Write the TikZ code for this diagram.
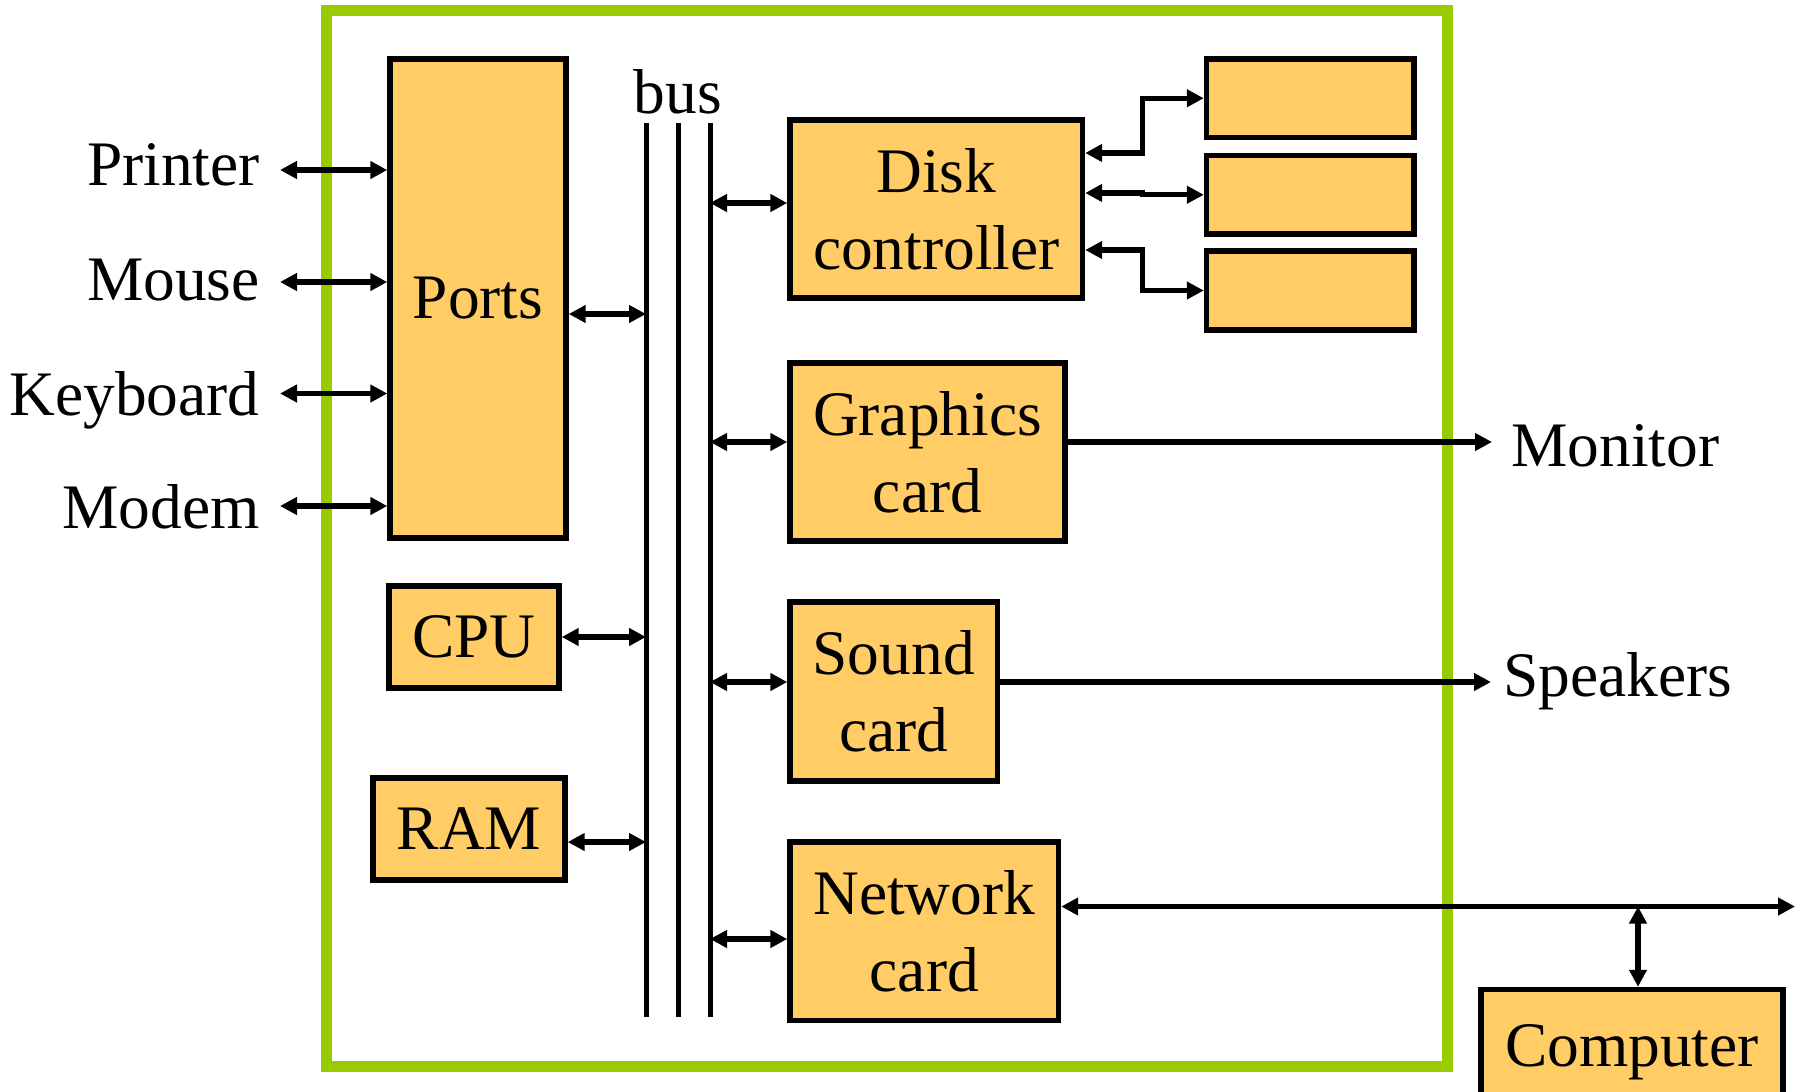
\documentclass[tikz,border=0pt]{standalone}
\usepackage{fontspec}
\setmainfont{Liberation Serif}
\usetikzlibrary{arrows.meta}
\definecolor{boxfill}{HTML}{FFCC66}
\definecolor{framegreen}{HTML}{99CC00}
\begin{document}
\begin{tikzpicture}[x=0.5pt,y=-0.5pt,
  every node/.style={font=\fontsize{31.7}{38.5}\selectfont},
  box/.style={draw=black, line width=2.7pt, fill=boxfill, inner sep=0pt},
  sized/.style 2 args={minimum width=#1*0.5pt, minimum height=#2*0.5pt},
  conn/.style={line width=2.7pt, {Triangle[length=8.5pt,width=8.5pt]}-{Triangle[length=8.5pt,width=8.5pt]}},
  oneway/.style={line width=2.7pt, -{Triangle[length=8.5pt,width=8.5pt]}},
  busline/.style={line width=2.5pt},
  lbl/.style={inner sep=0pt}]

\useasboundingbox (0,0) rectangle (1804,1092);
\clip (0,0) rectangle (1804,1092);

% system frame
\draw[framegreen, line width=5.5pt] (326,10) rectangle (1447,1066);

% bus
\coordinate (b1t) at (646,123);
\coordinate (b2t) at (678,123);
\coordinate (b3t) at (710,123);
\coordinate (b1b) at (646,1017);
\coordinate (b2b) at (678,1017);
\coordinate (b3b) at (710,1017);
\draw[busline] (b1t) -- (b1b);
\draw[busline] (b2t) -- (b2b);
\draw[busline] (b3t) -- (b3b);
\node[lbl, anchor=base] (busl) at (678,113) {bus};

% components
\node[box, sized={176}{479}] (ports) at (478,298.5) {Ports};
\node[box, sized={170}{102}] (cpu) at (474,637) {CPU};
\node[box, sized={192}{102}] (ram) at (469,829) {RAM};
\node[box, sized={292.5}{178}, align=center] (dc) at (936.25,209) {Disk\\controller};
\node[box, sized={207.5}{78.5}] (d1) at (1310.25,98.25) {};
\node[box, sized={207.5}{78.5}] (d2) at (1310.25,194.75) {};
\node[box, sized={207.5}{79}] (d3) at (1310.25,290.5) {};
\node[box, sized={275}{178}, align=center] (gc) at (927.5,452) {Graphics\\card};
\node[box, sized={207.5}{179}, align=center] (sc) at (893.75,691.5) {Sound\\card};
\node[box, sized={268.5}{178.5}, align=center] (nc) at (924.25,931.25) {Network\\card};
\node[box, sized={302}{125.5}] (comp) at (1632,1052.25) {Computer};

% external devices on the ports
\coordinate (pr) at (280,170);
\coordinate (mo) at (280,282);
\coordinate (kb) at (280,393.5);
\coordinate (md) at (280,506);
\node[lbl, anchor=base east] (lpr) at (260,185) {Printer};
\node[lbl, anchor=base east] (lmo) at (260,300) {Mouse};
\node[lbl, anchor=base east] (lkb) at (260,415) {Keyboard};
\node[lbl, anchor=base east] (lmd) at (260,528) {Modem};
\draw[conn] (pr) -- (pr -| ports.west);
\draw[conn] (mo) -- (mo -| ports.west);
\draw[conn] (kb) -- (kb -| ports.west);
\draw[conn] (md) -- (md -| ports.west);

% left side to bus
\coordinate (bP) at (646,314);
\coordinate (bR) at (646,842);
\draw[conn] (ports.east |- bP) -- (bP);
\draw[conn] (cpu.east) -- (cpu.east -| b1t);
\draw[conn] (ram.east |- bR) -- (bR);

% bus to right side
\coordinate (bD) at (710,203);
\coordinate (bG) at (710,442);
\coordinate (bS) at (710,682);
\coordinate (bN) at (710,939);
\draw[conn] (bD) -- (bD -| dc.west);
\draw[conn] (bG) -- (bG -| gc.west);
\draw[conn] (bS) -- (bS -| sc.west);
\draw[conn] (bN) -- (bN -| nc.west);

% disk controller to disks
\draw[conn] ([yshift=28pt]dc.east) -- ++(57,0) |- (d1.west);
\draw[conn] ([yshift=8pt]dc.east) -- ++(57,0) |- (d2.west);
\draw[conn] ([yshift=-20.5pt]dc.east) -- ++(57,0) |- (d3.west);

% outputs
\coordinate (mon) at (1492,442);
\coordinate (spk) at (1491,682);
\draw[oneway] (gc.east |- mon) -- (mon);
\draw[oneway] (sc.east |- spk) -- (spk);
\node[lbl, anchor=base west] (lmon) at (1511,466) {Monitor};
\node[lbl, anchor=base west] (lspk) at (1503,696) {Speakers};

% network link
\coordinate (net) at (1795,906.5);
\coordinate (tap) at (1638,906.5);
\draw[conn] (nc.east |- net) -- (net);
\draw[conn] (tap) -- (tap |- comp.north);
\end{tikzpicture}
\end{document}
